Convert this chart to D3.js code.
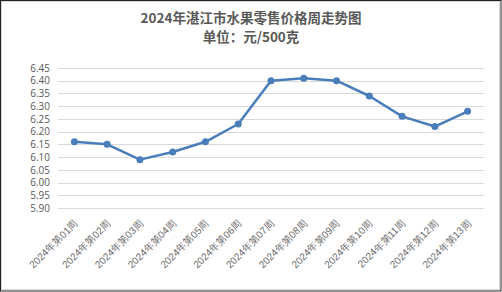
<!DOCTYPE html>
<html>
<head>
<meta charset="utf-8">
<script src="https://cdn.jsdelivr.net/npm/d3@7"></script>
<style>
  body { margin: 0; background: #fff; }
  svg { display: block; font-family: "Noto Sans CJK SC", "Open Sans", sans-serif; }
</style>
</head>
<body>
<div id="chart"></div>
<script>
const weeks = ['2024年第01周', '2024年第02周', '2024年第03周', '2024年第04周', '2024年第05周',
    '2024年第06周', '2024年第07周', '2024年第08周', '2024年第09周', '2024年第10周',
    '2024年第11周', '2024年第12周', '2024年第13周']
const prices = [6.16, 6.15, 6.09, 6.12, 6.16, 6.23, 6.40, 6.41, 6.40, 6.34, 6.26, 6.22, 6.28]
const yTicks = [5.90, 5.95, 6.00, 6.05, 6.10, 6.15, 6.20, 6.25, 6.30, 6.35, 6.40, 6.45]

const width = 502
const height = 292
const margin = { top: 68, right: 18, bottom: 84, left: 58 }

const svg = d3.select('#chart').append('svg')
    .attr('width', width)
    .attr('height', height)

// frame
svg.append('rect')
    .attr('x', 0.5).attr('y', 0.5)
    .attr('width', width - 1.5).attr('height', height - 1.5)
    .attr('fill', '#fff').attr('stroke', '#222')
svg.append('rect')
    .attr('x', 1.5).attr('y', 1.5)
    .attr('width', width - 4).attr('height', height - 4)
    .attr('fill', 'none').attr('stroke', '#d9d9d9')

svg.append('text')
    .attr('x', width / 2).attr('y', 23)
    .attr('text-anchor', 'middle')
    .attr('font-size', 13.5).attr('font-weight', 'bold').attr('fill', '#595959')
    .text('2024年湛江市水果零售价格周走势图')
svg.append('text')
    .attr('x', width / 2).attr('y', 42)
    .attr('text-anchor', 'middle')
    .attr('font-size', 13.5).attr('font-weight', 'bold').attr('fill', '#595959')
    .text('单位：元/500克')

const x = d3.scaleBand()
    .domain(weeks)
    .range([margin.left, width - margin.right])

const y = d3.scaleLinear()
    .domain([5.90, 6.45])
    .range([height - margin.bottom, margin.top])

// grid
svg.append('g')
    .selectAll('line')
    .data(yTicks)
    .join('line')
    .attr('x1', margin.left).attr('x2', width - margin.right)
    .attr('y1', d => Math.round(y(d)) + 0.5).attr('y2', d => Math.round(y(d)) + 0.5)
    .attr('stroke', '#d9d9d9')

const yAxis = svg.append('g')
    .attr('transform', `translate(${margin.left},0)`)
    .call(d3.axisLeft(y).tickValues(yTicks).tickFormat(d3.format('.2f')).tickSize(0).tickPadding(8))
yAxis.select('.domain').remove()
yAxis.selectAll('text')
    .attr('font-size', 10).attr('fill', '#595959')
    .attr('font-family', '"Open Sans", sans-serif')

const xAxis = svg.append('g')
    .attr('transform', `translate(0,${height - margin.bottom})`)
    .call(d3.axisBottom(x).tickSize(0).tickPadding(0))
xAxis.select('.domain').remove()
xAxis.selectAll('text')
    .attr('font-size', 10).attr('fill', '#6a6a6a')
    .attr('text-anchor', 'end')
    .attr('dy', 0)
    .attr('transform', 'translate(4,16) rotate(-45)')

const line = d3.line()
    .x((d, i) => x(weeks[i]) + x.bandwidth() / 2)
    .y(d => y(d))

svg.append('path')
    .datum(prices)
    .attr('d', line)
    .attr('fill', 'none')
    .attr('stroke', '#4a7ebb')
    .attr('stroke-width', 2.5)
    .attr('stroke-linejoin', 'round')

svg.append('g')
    .selectAll('circle')
    .data(prices)
    .join('circle')
    .attr('cx', (d, i) => x(weeks[i]) + x.bandwidth() / 2)
    .attr('cy', d => y(d))
    .attr('r', 3.5)
    .attr('fill', '#4a7ebb')
</script>
</body>
</html>
